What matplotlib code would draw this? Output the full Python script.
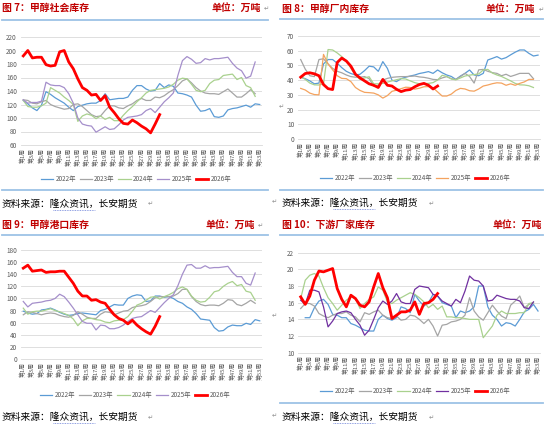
import numpy as np
import matplotlib
matplotlib.use("Agg")
import matplotlib.pyplot as plt

plt.rcParams['font.family'] = ['Noto Sans CJK SC', 'DejaVu Sans']

weeks = np.arange(1, 54)
years = ['2022年', '2023年', '2024年', '2025年', '2026年']
nan = np.nan

# 图7 甲醇社会库存
social_2022 = [126, 121, 115, 111, 119, 139, 135, 130, 126, 122, 116, 111, 117, 119, 121, 122, 122, 126, 136, 127,
               128, 129, 129, 131, 141, 148, 148, 143, 140, 141, 151, 145, 149, 147, 137, 136, 134, 131, 119, 110,
               111, 114, 102, 101, 103, 112, 114, 115, 117, 119, 116, 121, 120]
social_2023 = [127, 126, 122, 121, 124, 126, 120, 117, 115, 113, 114, 120, 121, 117, 111, 105, 102, 103, 111, 118,
               118, 115, 114, 118, 121, 126, 129, 126, 126, 131, 130, 133, 138, 142, 148, 155, 158, 152, 145, 140,
               137, 136, 136, 135, 139, 143, 137, 131, 131, 136, 142, 136]
social_2024 = [126, 117, 116, 116, 118, 122, 145, 141, 137, 131, 126, 120, 95, 103, 106, 104, 99, 103, 98, 101,
               96, 96, 104, 111, 117, 124, 130, 137, 141, 142, 143, 144, 146, 150, 156, 159, 158, 150, 141, 139,
               141, 151, 156, 157, 163, 164, 165, 157, 160, 148, 145, 132]
social_2025 = [127, 122, 123, 123, 125, 153, 149, 148, 148, 145, 136, 122, 100, 91, 89, 88, 79, 83, 87, 83,
               84, 90, 97, 101, 102, 103, 105, 111, 114, 108, 116, 124, 130, 137, 163, 185, 191, 187, 181, 182,
               188, 186, 188, 188, 189, 190, 181, 174, 170, 159, 162, 183]
social_2026 = [192, 200, 189, 190, 190, 179, 177, 178, 198, 200, 183, 173, 158, 145, 141, 134, 135, 126, 133, 116,
               108, 99, 92, 91, 97, 93, 88, 84, 78, 91, 105]

# 图8 甲醇厂内库存
factory_2022 = [42, 41, 39.5, 37.5, 38, 51, 54, 54, 51.5, 48.5, 46, 44.5, 43.5, 44, 46.5, 49.5, 49, 46, 52.6, 48,
                40, 39, 41, 42, 42.8, 43.5, 44.5, 45.1, 45.8, 44.6, 46.9, 45, 43.5, 42.5, 40.5, 42.8, 44.6, 46.9, 43.5, 43,
                44.6, 53.7, 54.8, 56, 54.3, 55.3, 57.2, 59, 60.5, 60.5, 58.2, 56.4, 57]
factory_2023 = [54, 47.5, 43, 42.4, 54, 54.5, 51, 48, 46, 45, 43.5, 42.4, 42, 42, 42.4, 41, 36, 36.5, 40, 41.2,
                41.9, 42.2, 42.4, 42.4, 42.6, 42.8, 42.2, 41.9, 41.3, 40.5, 40.3, 41.5, 42.4, 41, 40.5, 42.4, 44.6, 42.5, 38, 47,
                47.3, 46, 45.1, 44.6, 43, 44, 42.5, 43.5, 44.6, 44.6, 44.6, 41]
factory_2024 = [42.4, 40.5, 38, 36.8, 36.7, 37.5, 60.8, 60.5, 58.5, 56, 53, 48, 43.5, 40.5, 41.5, 42.3, 37.5, 37.5, 37.8, 38.7,
                39.5, 40.3, 41, 40.8, 39.5, 38.3, 37.5, 37.6, 37.8, 38.3, 40.1, 43.3, 42.5, 40.8, 40.2, 41.5, 42.8, 43.4, 43.8, 44.2,
                46.9, 47.3, 44.8, 43.5, 42.5, 41, 39.5, 37.8, 36.8, 36.7, 36.2, 35]
factory_2025 = [34.4, 33.3, 31.2, 30.2, 30, 57.5, 51, 47, 43, 41.2, 41, 39, 35, 33, 31.7, 31.5, 31.2, 30, 27.8, 29.5,
                32.4, 33.2, 34.2, 35.2, 35, 33.9, 34.5, 35.5, 35.6, 34.8, 32, 29.2, 29.2, 30.5, 33, 34.4, 34, 32.8, 32.5, 34,
                36, 36.7, 37.6, 38.2, 38, 36.5, 37.5, 36.5, 37.8, 38.8, 40.5, 40.5]
factory_2026 = [42, 44.5, 45, 44.3, 43, 37, 34.2, 33.6, 52, 55, 53, 49.5, 44, 41.5, 39.5, 37.5, 36.5, 35, 40.5, 36.5,
                36, 33.8, 32.2, 33.2, 33.6, 35.5, 37, 37.8, 36.5, 34, 36]

# 图9 甲醇港口库存
port_2022 = [79, 76, 74, 75, 81, 82, 84, 81, 77, 74, 72, 73, 75, 76, 75, 74, 73, 80, 82, 86,
             90, 89, 89, 100, 104, 106, 105, 95, 96, 104, 104, 102, 103, 100, 95, 92, 86, 82, 75, 66,
             65, 64, 52, 46, 47, 53, 56, 55, 55, 59, 57, 65, 63]
port_2023 = [73, 78, 77, 75, 73, 75, 76, 75, 72, 70, 69, 72, 78, 74, 69, 67, 67, 74, 78, 77,
             73, 76, 79, 80, 85, 87, 88, 90, 95, 101, 103, 103, 103, 104, 108, 115, 115, 103, 95, 90,
             88, 89, 89, 88, 92, 98, 97, 90, 88, 92, 97, 92]
port_2024 = [84, 74, 78, 79, 79, 81, 83, 80, 78, 75, 72, 66, 55, 63, 67, 67, 65, 64, 61, 60,
             63, 64, 65, 70, 79, 89, 92, 97, 102, 103, 99, 103, 106, 110, 116, 119, 115, 104, 97, 94,
             95, 102, 111, 113, 120, 125, 128, 121, 123, 112, 110, 97]
port_2025 = [95, 86, 92, 93, 94, 96, 97, 100, 107, 103, 94, 84, 73, 62, 59, 59, 48, 56, 55, 50,
             50, 52, 56, 62, 67, 69, 70, 75, 80, 77, 85, 93, 100, 106, 121, 140, 155, 156, 150, 150,
             154, 150, 151, 151, 152, 153, 143, 136, 136, 125, 122, 142]
port_2026 = [150, 155, 145, 146, 147, 143, 144, 144, 145, 145, 135, 125, 112, 104, 104, 97, 98, 94, 92, 82,
             73, 67, 64, 58, 64, 56, 50, 45, 41, 54, 70]

# 图10 下游厂家库存
down_2022 = [nan, 14.2, 14.2, 15.4, 16.2, 16.4, 15.8, 14.6, 14.5, 14.2, 14.2, 13.5, 13.3, 13.0, 12.7, 12.6, 12.6, 14.0, 14.5, 14.1,
             13.9, 14.2, 15.5, 15.3, 14.8, 17.0, 16.2, 15.6, 16.0, 17.0, 16.8, 16.0, 15.8, 15.6, 14.2, 15.0, 14.8, 15.0, 15.5, 18.0,
             18.0, 15.5, 14.5, 14.0, 13.2, 13.6, 13.5, 13.2, 14.0, 14.9, 15.2, 15.8, 15.0]
down_2023 = [15.3, 15.9, 15.9, 15.6, 14.7, 14.4, 14.2, 14.5, 14.7, 14.7, 14.9, 14.5, 14.3, 13.7, 14.8, 14.6, 14.9, 15.1, 14.5, 14.2,
             14.1, 14.4, 13.9, 14.0, 14.5, 14.4, 14.0, 13.5, 14.0, 13.2, 12.0, 13.3, 13.4, 13.7, 13.8, 14.0, 14.5, 16.6, 15.0, 14.3,
             13.9, 14.8, 15.7, 15.0, 14.4, 14.1, 15.7, 16.2, 16.8, 15.4, 15.8, 16.0]
down_2024 = [16.5, 18.7, 19.3, 19.5, 19.2, 17.8, 16.6, 15.9, 15.1, 15.7, 16.3, 16.7, 16.5, 15.3, 15.9, 16.4, 16.7, 17.9, 17.5, 16.1,
             15.9, 16.3, 16.6, 16.9, 17.2, 17.0, 16.6, 16.1, 15.4, 15.8, 15.2, 15.6, 14.3, 14.3, 14.2, 14.2, 14.1, 14.0, 14.0, 14.0,
             11.8, 12.5, 13.2, 14.5, 15.0, 14.7, 14.7, 14.7, 14.8, 14.8, 15.9, 16.0]
down_2025 = [16.3, 15.8, 17.5, 17.5, 17.3, 15.5, 13.1, 13.8, 14.7, 14.9, 15.0, 14.8, 14.0, 13.3, 12.1, 12.7, 14.0, 15.4, 16.2, 15.8,
             16.2, 17.1, 16.1, 15.9, 15.9, 17.6, 18.0, 17.9, 17.8, 17.0, 16.8, 16.2, 15.9, 15.6, 16.4, 16.0, 17.4, 19.2, 18.7, 18.6,
             18.0, 16.2, 16.3, 16.9, 16.7, 16.5, 16.4, 16.4, 16.2, 15.4, 15.3, 16.1]
down_2026 = [16.7, 15.8, 16.8, 18.7, 19.8, 19.7, 19.9, 20.1, 17.7, 16.4, 15.5, 16.9, 16.5, 15.7, 15.5, 16.1, 17.9, 19.5, 17.8, 16.6,
             14.1, 14.5, 14.9, 14.9, 15.1, 16.1, 14.6, 15.9, 16.0, 16.4, 17.1]

W, H = 550, 426
fig = plt.figure(figsize=(W / 100, H / 100), dpi=100)
fig.patch.set_facecolor('white')


def fx(px):
    return px / W


def fy(py):
    return 1 - py / H


def panel(box, data, colors, ylim, ystep, leg_xy):
    left, top, right, bottom = box
    ax = fig.add_axes([fx(left), fy(bottom), (right - left) / W, (bottom - top) / H])
    for i, (vals, c) in enumerate(zip(data, colors)):
        lw = 2.0 if i == 4 else 0.9
        ax.plot(weeks[:len(vals)], vals, color=c, lw=lw, label=years[i],
                solid_joinstyle='round', zorder=3 + i)
    ax.set_xlim(0.5, 53.5)
    ax.set_ylim(*ylim)
    ax.set_yticks(np.arange(ylim[0], ylim[1] + 0.01, ystep))
    ax.set_xticks(weeks[::2])
    ax.set_xticklabels(['第%d周' % w for w in weeks[::2]], rotation=90, fontsize=4.2, color='#595959')
    ax.tick_params(axis='y', labelsize=4.6, colors='#595959', length=0, pad=3)
    ax.tick_params(axis='x', length=0, pad=2)
    ax.grid(axis='y', color='#D9D9D9', lw=0.6)
    ax.set_axisbelow(True)
    for s in ['top', 'right', 'left']:
        ax.spines[s].set_visible(False)
    ax.spines['bottom'].set_color('#D9D9D9')
    ax.spines['bottom'].set_linewidth(0.6)
    leg = ax.legend(loc='center', bbox_to_anchor=(fx(leg_xy[0]), fy(leg_xy[1])),
                    bbox_transform=fig.transFigure, ncol=5, frameon=False, fontsize=4.6,
                    handlelength=1.9, handletextpad=0.35, columnspacing=0.6)
    for t in leg.get_texts():
        t.set_color('#595959')
    return ax


blue, gray, green = '#5B9BD5', '#A5A5A5', '#A9D18E'
red = '#FF0000'

panel((21, 37, 262, 145), [social_2022, social_2023, social_2024, social_2025, social_2026],
      [blue, gray, green, '#A58FCB', red], (60, 220), 20, (136, 179))
panel((298.4, 36, 540.3, 139), [factory_2022, factory_2023, factory_2024, factory_2025, factory_2026],
      [blue, gray, green, '#F4A35F', red], (0, 70), 10, (415, 178))
panel((21, 250, 262, 359), [port_2022, port_2023, port_2024, port_2025, port_2026],
      [blue, gray, green, '#A58FCB', red], (0, 180), 20, (135, 395))
panel((298.4, 252.7, 540.3, 352.7), [down_2022, down_2023, down_2024, down_2025, down_2026],
      [blue, gray, green, '#7030A0', red], (10, 22), 2, (415, 391))

# titles, separator lines and source notes
title_red = '#C00000'
titles = [('图 7：甲醇社会库存', 2, 8, 261, 8), ('图 8：甲醇厂内库存', 282, 9, 535, 9),
          ('图 9：甲醇港口库存', 2, 225, 255, 225), ('图 10：下游厂家库存', 282, 225, 542, 225)]
for t, x0, y0, x1, y1 in titles:
    fig.text(fx(x0), fy(y0), t, color=title_red, fontsize=7.1, fontweight='bold', va='center', ha='left')
    fig.text(fx(x1), fy(y1), '单位：万吨', color=title_red, fontsize=7.1, fontweight='bold', va='center', ha='right')

line_blue = '#9DC3E6'
for x0, x1, y in [(2, 268, 20), (280, 543, 19), (2, 268, 235), (280, 543, 235),
                  (2, 268, 190), (280, 543, 190), (280, 543, 403)]:
    fig.add_artist(plt.Line2D([fx(x0), fx(x1)], [fy(y), fy(y)], color=line_blue, lw=1.3))

source = '资料来源：隆众资讯，长安期货'
for x0, y0 in [(2, 204), (282, 203), (2, 417), (282, 417)]:
    fig.text(fx(x0), fy(y0), source, fontsize=7, color='black', va='center', ha='left')
    fig.add_artist(plt.Line2D([fx(x0 + 51), fx(x0 + 93)], [fy(y0 + 6), fy(y0 + 6)],
                              color='#6A7FD8', lw=0.6, ls=(0, (1, 1))))

# paragraph marks
for x0, y0 in [(264, 9), (539, 10), (258, 226), (148, 204), (429, 204), (148, 418), (429, 418),
               (272, 202), (272, 316), (272, 416), (279, 107)]:
    fig.text(fx(x0), fy(y0), '↵', fontsize=4.5, color='#8C8C8C', va='center', ha='left',
             family='DejaVu Sans')

fig.savefig('out.png', dpi=100)
